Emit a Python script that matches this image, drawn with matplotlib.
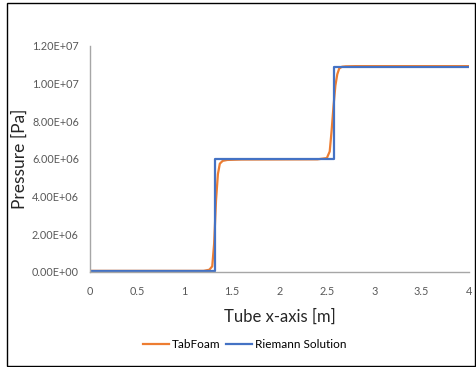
import matplotlib.pyplot as plt
from matplotlib.patches import Rectangle
from matplotlib.ticker import FuncFormatter

plt.rcParams['font.family'] = ['Lato', 'DejaVu Sans']

# TabFoam result (smeared shocks)
x_tab = [0.0, 1.20, 1.26, 1.29, 1.31, 1.33, 1.35, 1.37, 1.40, 1.45, 1.60,
         2.40, 2.50, 2.53, 2.55, 2.57, 2.59, 2.61, 2.63, 2.66, 2.70, 2.80, 4.0]
p_tab = [0.06e6, 0.06e6, 0.12e6, 0.30e6, 1.5e6, 3.8e6, 5.2e6, 5.75e6, 5.9e6,
         5.95e6, 5.97e6, 5.98e6, 6.05e6, 6.4e6, 7.5e6, 8.8e6, 9.9e6, 10.5e6,
         10.8e6, 10.9e6, 10.92e6, 10.93e6, 10.93e6]

# exact Riemann solution
x_rie = [0.0, 1.32, 1.32, 2.58, 2.58, 4.0]
p_rie = [0.06e6, 0.06e6, 6.0e6, 6.0e6, 10.9e6, 10.9e6]

fig = plt.figure(figsize=(4.77, 3.67), dpi=100)
ax = fig.add_axes([0.1887, 0.2589, 0.7945, 0.6158])

ax.plot(x_tab, p_tab, color='#ED7D31', lw=1.6, label='TabFoam')
ax.plot(x_rie, p_rie, color='#4472C4', lw=1.6, label='Riemann Solution')

ax.set_xlim(0, 4)
ax.set_ylim(0, 1.2e7)
ax.set_xticks([0, 0.5, 1, 1.5, 2, 2.5, 3, 3.5, 4])
ax.set_xticklabels(['0', '0.5', '1', '1.5', '2', '2.5', '3', '3.5', '4'])
ax.set_yticks([i * 2e6 for i in range(7)])
ax.yaxis.set_major_formatter(FuncFormatter(
    lambda v, p: ('%.2E' % v) if v else '0.00E+00'))
ax.tick_params(length=0, labelsize=7.8, colors='#595959')
ax.tick_params(axis='x', pad=10)
ax.tick_params(axis='y', pad=8)
for s in ['top', 'right']:
    ax.spines[s].set_visible(False)
for s in ['left', 'bottom']:
    ax.spines[s].set_color('#A6A6A6')
    ax.spines[s].set_linewidth(1.0)

ax.set_xlabel('Tube x-axis [m]', fontsize=12, color='#262626')
ax.set_ylabel('Pressure [Pa]', fontsize=12.5, color='#262626')
ax.xaxis.set_label_coords(0.5, -0.163)
ax.yaxis.set_label_coords(-0.163, 0.5)

fig.legend(loc='center', bbox_to_anchor=(0.513, 0.062), ncol=2, frameon=False,
           fontsize=8.5, handlelength=2.2, handletextpad=0.3, columnspacing=0.4)

fig.patches.append(Rectangle((7 / 477, 1 / 367), 468 / 477, 363 / 367,
                             transform=fig.transFigure, fill=False,
                             edgecolor='black', lw=1.0))

fig.savefig('out.png', dpi=100)
